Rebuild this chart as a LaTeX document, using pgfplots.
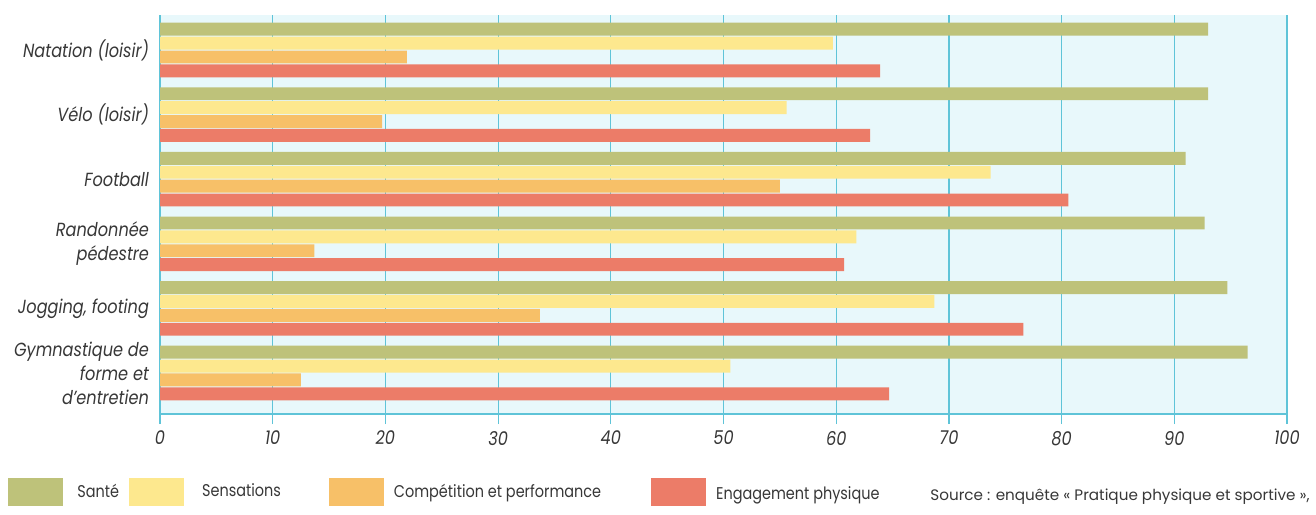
\documentclass[border=0pt]{standalone}
\usepackage{fontspec}
\setmainfont{Poppins}[FakeStretch=0.85]
\newfontfamily\srcfont{Poppins}
\usepackage{pgfplots}
\pgfplotsset{compat=1.18}
\definecolor{sante}{RGB}{190,194,122}
\definecolor{sens}{RGB}{253,232,142}
\definecolor{comp}{RGB}{247,192,104}
\definecolor{eng}{RGB}{236,124,104}
\definecolor{bgc}{RGB}{232,248,251}
\definecolor{gridc}{RGB}{95,196,216}
\definecolor{txt}{RGB}{55,55,55}
\pgfplotsset{legbox/.style={legend image code/.code={\fill[##1] (0pt,-7pt) rectangle (27.5pt,7pt);}}}
\begin{document}
\begin{tikzpicture}[x=1pt,y=1pt]
\useasboundingbox (0,0) rectangle (658,257);
\begin{axis}[
  at={(80pt,50pt)}, anchor=south west,
  scale only axis, width=563.5pt, height=199.5pt,
  xmin=0, xmax=100, ymin=-0.542, ymax=5.635,
  y dir=reverse,
  xbar, bar width=0.2,
  axis background/.style={fill=bgc},
  axis x line*=bottom, axis y line*=left,
  axis line style={gridc, line width=0.7pt, -},
  xtick={0,10,...,100},
  xmajorgrids, grid style={gridc, line width=0.6pt},
  xtick style={gridc, line width=0.6pt},
  xtick align=outside, major tick length=5pt,
  ytick={0,...,5},
  ytick style={draw=none},
  yticklabels={Natation (loisir), Vélo (loisir), Football, {Randonnée\\pédestre}, {Jogging, footing}, {Gymnastique de\\forme et\\d'entretien}},
  yticklabel style={align=right, font=\itshape\fontsize{9.5}{12}\selectfont, text=txt, xshift=3pt},
  xticklabel style={font=\itshape\fontsize{9.5}{11}\selectfont, text=txt},
  /pgf/number format/assume math mode=true,
  legend style={at={(axis description cs:-0.1349,-0.1955)}, anchor=west, draw=none, fill=none, inner sep=0pt,
    legend columns=-1, font=\fontsize{8.5}{10}\selectfont, text=txt,
    /tikz/every even column/.append style={column sep=3pt},
    /tikz/every odd column/.append style={column sep=3pt}},
]
\addplot[fill=sante, draw=none, bar shift=-0.3225, legbox] coordinates {(93,0) (93,1) (91,2) (92.7,3) (94.7,4) (96.5,5)};
\addplot[fill=sens, draw=none, bar shift=-0.1075, legbox] coordinates {(59.7,0) (55.6,1) (73.7,2) (61.8,3) (68.7,4) (50.6,5)};
\addplot[fill=comp, draw=none, bar shift=0.1075, legbox] coordinates {(21.9,0) (19.7,1) (55,2) (13.7,3) (33.7,4) (12.5,5)};
\addplot[fill=eng, draw=none, bar shift=0.3225, legbox] coordinates {(63.9,0) (63,1) (80.6,2) (60.7,3) (76.6,4) (64.7,5)};
\legend{\hspace{2pt}Santé, \hspace{4pt}Sensations\hspace*{19pt}\null, Compétition et performance\hspace*{20pt}\null, {\raisebox{-3pt}{Engagement physique}}}
\end{axis}
\node[anchor=west, font=\srcfont\fontsize{7.6}{9}\selectfont, text=txt, inner sep=0pt] at (465,8.5) {Source : enquête « Pratique physique et sportive »,};
\end{tikzpicture}
\end{document}
